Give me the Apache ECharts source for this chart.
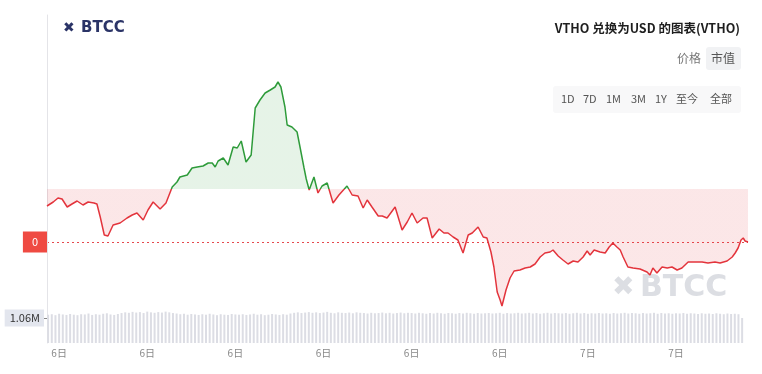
<!DOCTYPE html>
<html><head><meta charset="utf-8">
<script src="https://cdn.jsdelivr.net/npm/echarts@6/dist/echarts.min.js"></script>
<style>html,body{margin:0;padding:0;background:#fff}#c{width:762px;height:374px}</style>
</head><body><div id="c"></div>
<script>
// time in minutes from 6日 00:00
const times = [-33,-30,-16,-3,8,22,35,49,65,79,95,103,112,123,133,147,166,185,199,212,229,242,256,275,291,308,321,329,349,362,376,392,406,417,425,433,447,460,474,485,496,509,523,534,547,561,575,588,596,604,615,621,634,648,656,667,673,681,694,705,716,730,746,762,784,798,814,828,839,852,869,880,893,915,934,948,961,975,991,1002,1016,1035,1048,1059,1073,1086,1100,1114,1125,1141,1155,1165,1176,1184,1193,1201,1206,1217,1228,1239,1255,1269,1283,1296,1310,1323,1337,1345,1359,1372,1386,1400,1413,1427,1438,1446,1457,1473,1487,1498,1508,1519,1528,1536,1549,1563,1582,1601,1609,1617,1628,1642,1656,1669,1683,1696,1713,1732,1751,1767,1786,1800,1819,1833,1841,1849,1857,1863,1868,1876];
const prices = [0.002072,0.002074,0.002080,0.002088,0.002086,0.002070,0.002076,0.002082,0.002074,0.002080,0.002078,0.002076,0.002050,0.002014,0.002012,0.002034,0.002038,0.002048,0.002054,0.002058,0.002044,0.002064,0.002080,0.002066,0.002078,0.002110,0.002120,0.002130,0.002134,0.002148,0.002150,0.002152,0.002158,0.002158,0.002150,0.002162,0.002168,0.002154,0.002190,0.002188,0.002202,0.002160,0.002174,0.002268,0.002284,0.002298,0.002304,0.002310,0.002320,0.002310,0.002270,0.002234,0.002230,0.002220,0.002190,0.002148,0.002126,0.002104,0.002130,0.002098,0.002112,0.002118,0.002078,0.002094,0.002112,0.002094,0.002092,0.002068,0.002084,0.002070,0.002052,0.002052,0.002048,0.002070,0.002024,0.002040,0.002058,0.002038,0.002048,0.002048,0.002008,0.002026,0.002018,0.002018,0.002010,0.002004,0.001978,0.002014,0.002018,0.002030,0.002010,0.002008,0.001980,0.001950,0.001900,0.001884,0.001872,0.001904,0.001928,0.001942,0.001944,0.001948,0.001950,0.001956,0.001970,0.001978,0.001980,0.001984,0.001972,0.001964,0.001956,0.001962,0.001960,0.001970,0.001982,0.001974,0.001984,0.001980,0.001978,0.001990,0.001998,0.001990,0.001984,0.001970,0.001950,0.001948,0.001946,0.001940,0.001934,0.001948,0.001938,0.001950,0.001948,0.001950,0.001944,0.001948,0.001960,0.001960,0.001960,0.001958,0.001960,0.001958,0.001962,0.001970,0.001978,0.001988,0.002004,0.002008,0.002002,0.002000];
const baseline = 0.002106;
// volume (millions), one bar every 10 minutes starting at -30
const volStart = -30, volStep = 10;
const volumes = [
1.20,1.22,1.18,1.24,1.21,1.19,1.23,1.20,1.18,1.22,
1.21,1.25,1.19,1.22,1.20,1.24,1.26,1.21,1.19,1.23,
1.27,1.30,1.28,1.32,1.29,1.31,1.27,1.33,1.30,1.28,
1.31,1.29,1.33,1.30,1.27,1.25,1.22,1.24,1.20,1.23,
1.21,1.19,1.22,1.20,1.24,1.21,1.18,1.22,1.20,1.19,
1.23,1.21,1.20,1.22,1.19,1.21,1.24,1.20,1.22,1.18,
1.20,1.23,1.21,1.19,1.22,1.20,1.25,1.28,1.30,1.27,
1.29,1.31,1.28,1.30,1.27,1.29,1.32,1.28,1.26,1.30,
1.28,1.27,1.29,1.26,1.30,1.28,1.27,1.25,1.28,1.26,
1.27,1.29,1.26,1.28,1.25,1.27,1.29,1.26,1.28,1.27,
1.25,1.28,1.26,1.24,1.27,1.25,1.28,1.26,1.24,1.27,
1.26,1.24,1.27,1.25,1.28,1.26,1.24,1.27,1.25,1.26,
1.27,1.25,1.26,1.28,1.24,1.27,1.25,1.26,1.28,1.25,
1.26,1.28,1.25,1.27,1.24,1.26,1.28,1.25,1.27,1.26,
1.25,1.27,1.24,1.26,1.28,1.25,1.27,1.24,1.26,1.25,
1.27,1.25,1.26,1.24,1.27,1.25,1.26,1.28,1.25,1.27,
1.26,1.24,1.27,1.25,1.26,1.28,1.24,1.27,1.25,1.26,
1.24,1.26,1.25,1.27,1.24,1.26,1.25,1.23,1.26,1.24,
1.25,1.23,1.26,1.24,1.22,1.25,1.23,1.24,1.22,1.06];
const xTickMinutes = [0,240,480,720,960,1200,1440,1680];
const xTickLabels = ['6日','6日','6日','6日','6日','6日','7日','7日'];
const title = 'VTHO 兑换为USD 的图表(VTHO)';
const tabs = ['价格','市值'];
const ranges = ['1D','7D','1M','3M','1Y','至今','全部'];

const GREEN = '#2e9b3a', RED = '#e3343c';
const FONT = '"Noto Sans CJK SC","Noto Sans",sans-serif';
const lastPrice = prices[prices.length-1];
const lastVol = volumes[volumes.length-1] * 1e6;
const priceData = times.map((t,i)=>[t,prices[i]]);
const volData = volumes.map((v,i)=>[volStart+i*volStep, v*1e6]);

const chart = echarts.init(document.getElementById('c'));
const rangeX = [561,583,606,631,655,676,710];
const graphics = [
  {type:'text', x:63, y:28, style:{text:'✖', fill:'#2b3467', font:'bold 14px "DejaVu Sans"', textVerticalAlign:'middle'}},
  {type:'text', x:81, y:28, style:{text:'BTCC', fill:'#2b3467', font:'bold 15px "DejaVu Sans"', textVerticalAlign:'middle'}},
  {type:'text', x:740, y:28, style:{text:title, fill:'#1e1e1e', font:'bold 12.5px '+FONT, textAlign:'right', textVerticalAlign:'middle'}},
  {type:'rect', shape:{x:706,y:47,width:35,height:23,r:3}, style:{fill:'#f1f2f4'}},
  {type:'text', x:677, y:58, style:{text:tabs[0], fill:'#777', font:'12px '+FONT, textVerticalAlign:'middle'}},
  {type:'text', x:711, y:58, style:{text:tabs[1], fill:'#555', font:'12px '+FONT, textVerticalAlign:'middle'}},
  {type:'rect', shape:{x:553,y:86,width:188,height:27,r:3}, style:{fill:'#f8f8f9'}},
  {type:'text', x:612, y:288, z:1, style:{text:'✖', fill:'#dcdee3', font:'bold 27px "DejaVu Sans"', textVerticalAlign:'middle'}},
  {type:'text', x:640, y:288, z:1, style:{text:'BTCC', fill:'#dcdee3', font:'bold 30px "DejaVu Sans"', textVerticalAlign:'middle'}}
];
ranges.forEach((r,i)=>graphics.push({type:'text', x:rangeX[i], y:99, style:{text:r, fill:'#555', font:'11px '+FONT, textVerticalAlign:'middle'}}));

chart.setOption({
  animation:false,
  backgroundColor:'#fff',
  grid:[
    {left:47, right:14, top:15, bottom:64},
    {left:47, right:14, top:305, bottom:31}
  ],
  xAxis:[
    {type:'value', gridIndex:0, min:-33, max:1876, show:false, splitLine:{show:false}},
    {type:'value', gridIndex:1, min:-33, max:1876,
     axisLine:{show:false}, axisTick:{show:false}, splitLine:{show:false},
     axisLabel:{customValues:xTickMinutes, margin:5, color:'#888', fontSize:10, fontFamily:FONT,
       formatter:v=>xTickLabels[xTickMinutes.indexOf(v)] || ''}}
  ],
  yAxis:[
    {type:'value', gridIndex:0, min:0.001864, max:0.002454,
     axisTick:{show:false, customValues:[lastPrice]},
     axisLabel:{customValues:[lastPrice], margin:0, formatter:v=>String(Math.round(v)), color:'#fff',
       backgroundColor:'#ef4a42', padding:[5,9,5,9], fontSize:11, fontFamily:FONT},
     splitLine:{show:true, lineStyle:{type:[2,3], color:'#e5484d', width:1}},
     axisLine:{show:true, onZero:false, lineStyle:{color:'#e4e4e8'}}},
    {type:'value', gridIndex:1, min:0, max:1.611e6,
     axisTick:{show:true, length:3, customValues:[lastVol], lineStyle:{color:'#888'}},
     axisLabel:{customValues:[lastVol], margin:3, formatter:v=>(v/1e6).toFixed(2)+'M', color:'#333',
       backgroundColor:'#e3e6ee', padding:[3,4,3,5], fontSize:11, fontFamily:FONT},
     splitLine:{show:false}, axisLine:{show:true, onZero:false, lineStyle:{color:'#e4e4e8'}}}
  ],
  visualMap:{type:'piecewise', show:false, dimension:1, seriesIndex:0,
    pieces:[{min:0, max:baseline, color:RED},{min:baseline, max:1, color:GREEN}]},
  graphic:graphics,
  series:[
    {type:'line', xAxisIndex:0, yAxisIndex:0, data:priceData, symbol:'none', lineStyle:{width:1.5},
     areaStyle:{opacity:0.12, origin:baseline}, z:3},
    {type:'bar', xAxisIndex:1, yAxisIndex:1, data:volData, barWidth:2,
     itemStyle:{color:'#dcdde4'}}
  ]
});
</script></body></html>
